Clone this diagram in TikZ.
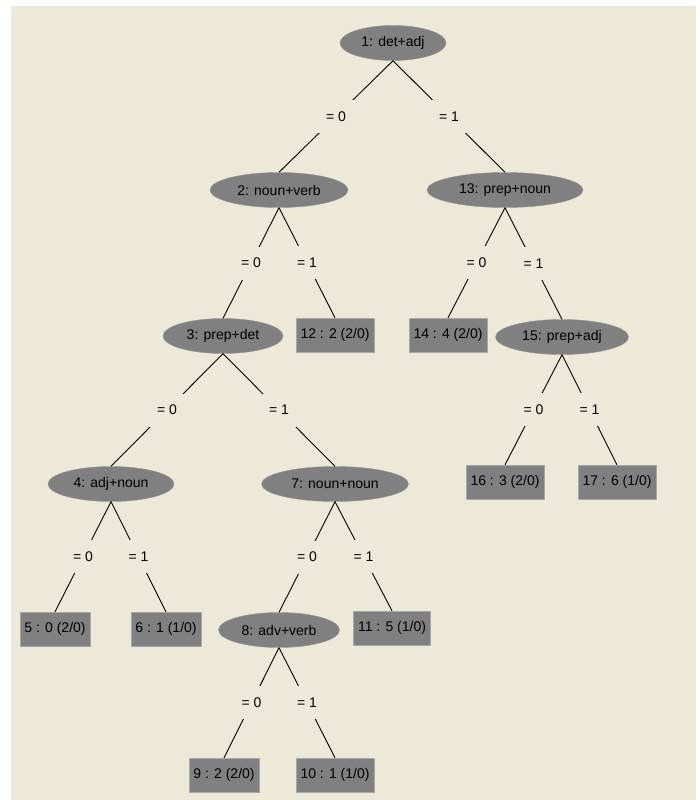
\documentclass[tikz,border=0pt]{standalone}
\usepackage{fontspec}
\setmainfont{Liberation Sans}
\usetikzlibrary{shapes.geometric}
\definecolor{panel}{HTML}{ECE9D8}
\definecolor{nodegray}{HTML}{808080}
\definecolor{leafedge}{HTML}{A8A8A8}
\begin{document}
\begin{tikzpicture}[x=1pt,y=-1pt]

    \tikzset{
      split/.style={
        ellipse,
        fill=nodegray,
        draw=nodegray!85!white,
        inner xsep=2pt,
        inner ysep=1pt,
        minimum height=35pt,
        font=\fontsize{14}{16}\selectfont,
      },
      leaf/.style={
        rectangle,
        fill=nodegray,
        draw=leafedge,
        inner xsep=4.5pt,
        inner ysep=0pt,
        minimum height=34pt,
        font=\fontsize{14}{16}\selectfont,
      },
      cond/.style={
        fill=panel,
        inner sep=0pt,
        minimum width=36pt,
        minimum height=33pt,
        font=\fontsize{14}{16}\selectfont,
      },
      branch/.style={line width=0.9pt},
    }
    \useasboundingbox[fill=white] (0,0) rectangle (699,800);
    \fill[panel] (11,6) rectangle (696,800);

	\node[split,minimum width=106] (n1) at (393,43) {1: det+adj};
	\node[split,minimum width=138] (n2) at (279,190) {2: noun+verb};
	\node[split,minimum width=156] (n13) at (505,190) {13: prep+noun};
	\node[split,minimum width=120] (n3) at (223,336) {3: prep+det};
	\node[leaf] (n12) at (335,335) {12 : 2 (2/0)};
	\node[leaf] (n14) at (448,335) {14 : 4 (2/0)};
	\node[split,minimum width=133] (n15) at (562,337) {15: prep+adj};
	\node[split,minimum width=126] (n4) at (111,484) {4: adj+noun};
	\node[split,minimum width=147] (n7) at (335,484) {7: noun+noun};
	\node[leaf] (n16) at (505,482) {16 : 3 (2/0)};
	\node[leaf] (n17) at (617,482) {17 : 6 (1/0)};
	\node[leaf] (n5) at (55,629) {5 : 0 (2/0)};
	\node[leaf] (n6) at (166,629) {6 : 1 (1/0)};
	\node[split,minimum width=121] (n8) at (279,630) {8: adv+verb};
	\node[leaf] (n11) at (392,628) {11 : 5 (1/0)};
	\node[leaf] (n9) at (224,775) {9 : 2 (2/0)};
	\node[leaf] (n10) at (335,775) {10 : 1 (1/0)};

	\draw[branch] (n1.south) -- node[cond] {= 0} (n2.north);
	\draw[branch] (n1.south) -- node[cond] {= 1} (n13.north);
	\draw[branch] (n2.south) -- node[cond] {= 0} (n3.north);
	\draw[branch] (n2.south) -- node[cond] {= 1} (n12.north);
	\draw[branch] (n13.south) -- node[cond] {= 0} (n14.north);
	\draw[branch] (n13.south) -- node[cond] {= 1} (n15.north);
	\draw[branch] (n3.south) -- node[cond] {= 0} (n4.north);
	\draw[branch] (n3.south) -- node[cond] {= 1} (n7.north);
	\draw[branch] (n15.south) -- node[cond] {= 0} (n16.north);
	\draw[branch] (n15.south) -- node[cond] {= 1} (n17.north);
	\draw[branch] (n4.south) -- node[cond] {= 0} (n5.north);
	\draw[branch] (n4.south) -- node[cond] {= 1} (n6.north);
	\draw[branch] (n7.south) -- node[cond] {= 0} (n8.north);
	\draw[branch] (n7.south) -- node[cond] {= 1} (n11.north);
	\draw[branch] (n8.south) -- node[cond] {= 0} (n9.north);
	\draw[branch] (n8.south) -- node[cond] {= 1} (n10.north);

\end{tikzpicture}
\end{document}
